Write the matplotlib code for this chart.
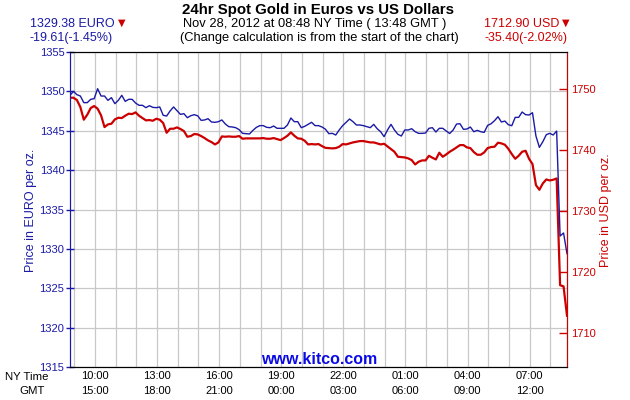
import matplotlib
matplotlib.use("Agg")
import matplotlib.pyplot as plt
import matplotlib.dates as mdates
from matplotlib.ticker import FuncFormatter
from datetime import timedelta
import pandas as pd
import numpy as np

plt.rcParams['font.family'] = ['Liberation Sans', 'DejaVu Sans']

BLUE = '#1a1aa6'
RED = '#cc0000'
GRID = '#c8c8c8'

# 10 minute samples, NY time, from 08:48 on Nov 27
times = pd.date_range("2012-11-27 08:48", periods=145, freq="10min")

eur = [1349.50, 1350.00, 1349.58, 1349.41, 1348.57, 1348.57, 1348.99, 1349.07, 1350.34, 1349.41,
       1349.41, 1348.86, 1349.20, 1348.44, 1348.86, 1349.50, 1348.73, 1348.99, 1348.99, 1348.52,
       1348.23, 1348.23, 1347.93, 1348.18, 1347.97, 1347.93, 1348.02, 1346.96, 1346.87, 1347.51,
       1348.02, 1347.55, 1347.08, 1347.17, 1346.66, 1346.91, 1347.04, 1346.90, 1346.32, 1346.37,
       1346.53, 1346.11, 1346.07, 1346.15, 1346.37, 1345.86, 1345.52, 1345.48, 1345.39, 1345.14,
       1344.67, 1344.63, 1344.59, 1345.05, 1345.43, 1345.65, 1345.65, 1345.43, 1345.39, 1345.60,
       1345.31, 1345.31, 1345.31, 1345.73, 1346.62, 1346.15, 1346.15, 1345.39, 1345.56, 1345.81,
       1346.07, 1345.65, 1345.65, 1345.48, 1345.20, 1344.63, 1344.67, 1344.46, 1345.10, 1345.65,
       1346.07, 1346.49, 1346.15, 1345.73, 1345.73, 1345.65, 1345.52, 1345.39, 1345.81, 1345.26,
       1344.88, 1344.25, 1345.10, 1345.81, 1345.10, 1344.55, 1344.33, 1345.10, 1345.10, 1345.26,
       1344.88, 1344.67, 1344.67, 1344.71, 1345.31, 1345.39, 1344.84, 1345.31, 1345.31, 1344.97,
       1344.65, 1345.09, 1345.85, 1345.89, 1345.18, 1345.22, 1345.47, 1344.88, 1345.05, 1344.88,
       1344.79, 1345.68, 1345.89, 1346.28, 1346.78, 1346.11, 1346.23, 1345.77, 1345.64, 1346.70,
       1346.70, 1347.38, 1347.04, 1347.00, 1347.29, 1344.33, 1342.89, 1343.61, 1344.50, 1344.67,
       1344.46, 1344.96, 1331.63, 1332.02, 1329.38]

usd = [1748.61, 1748.61, 1748.23, 1747.08, 1745.01, 1745.82, 1746.92, 1747.25, 1746.81, 1745.72,
       1743.80, 1744.24, 1744.35, 1745.06, 1745.33, 1745.28, 1745.66, 1745.99, 1745.93, 1746.21,
       1745.66, 1745.28, 1744.90, 1744.95, 1744.84, 1745.17, 1745.01, 1744.46, 1742.87, 1743.53,
       1743.53, 1743.75, 1743.48, 1743.15, 1742.22, 1742.33, 1742.66, 1742.60, 1742.33, 1742.00,
       1741.62, 1741.34, 1740.96, 1741.29, 1742.27, 1742.22, 1742.27, 1742.22, 1742.22, 1742.33,
       1741.89, 1741.95, 1741.95, 1741.95, 1741.95, 1741.95, 1742.00, 1741.89, 1741.89, 1742.00,
       1741.84, 1741.67, 1742.00, 1742.38, 1742.93, 1742.38, 1741.95, 1741.89, 1741.56, 1740.96,
       1741.02, 1740.96, 1741.02, 1740.69, 1740.40, 1740.36, 1740.31, 1740.36, 1740.58, 1741.02,
       1740.96, 1741.13, 1741.29, 1741.40, 1741.51, 1741.51, 1741.40, 1741.29, 1741.29, 1741.13,
       1740.96, 1741.07, 1740.63, 1740.20, 1739.76, 1738.94, 1738.89, 1738.83, 1738.67, 1738.39,
       1737.68, 1738.12, 1738.34, 1738.34, 1739.10, 1738.78, 1738.50, 1739.60, 1738.94, 1739.32,
       1739.75, 1740.09, 1740.47, 1740.85, 1740.85, 1740.47, 1740.36, 1739.71, 1739.27, 1739.27,
       1739.65, 1740.36, 1740.53, 1740.58, 1741.24, 1741.13, 1740.91, 1740.25, 1739.38, 1738.61,
       1739.10, 1739.76, 1739.92, 1738.61, 1737.74, 1734.30, 1733.53, 1734.57, 1735.22, 1735.06,
       1735.17, 1735.39, 1717.90, 1717.70, 1712.90]

eur_ticks = [1315, 1320, 1325, 1330, 1335, 1340, 1345, 1350, 1355]
usd_ticks = [1710, 1720, 1730, 1740, 1750]

fig = plt.figure(figsize=(6.3, 4.0), dpi=100)
ax = fig.add_axes([70/630, 33/400, 497/630, 315/400])
ax2 = ax.twinx()

# red on the twin axis, blue drawn over it in euro coordinates
ax2.plot(times, usd, color=RED, linewidth=1.6, zorder=2)
ax2.plot(times, eur, color=BLUE, linewidth=1.0, zorder=3, transform=ax.transData)

ax.set_xlim(times[0], times[-1])
ax.set_ylim(1315, 1355)
ax2.set_ylim(1704.5, 1756.1)

ax.set_yticks(eur_ticks)
ax2.set_yticks(usd_ticks)

ax.xaxis.set_major_locator(mdates.HourLocator(byhour=[1, 4, 7, 10, 13, 16, 19, 22]))
ax.xaxis.set_minor_locator(mdates.HourLocator())

def two_clocks(x, pos):
    t = mdates.num2date(x)
    return f"{t:%H:%M}\n{(t + timedelta(hours=5)):%H:%M}"

ax.xaxis.set_major_formatter(FuncFormatter(two_clocks))
ax.tick_params(axis='x', which='both', length=0, pad=3, labelsize=8)
ax.grid(axis='x', which='both', color=GRID, linewidth=0.9)
ax.grid(axis='y', which='major', color=GRID, linewidth=0.9)
ax.set_axisbelow(True)

ax.tick_params(axis='y', colors=BLUE, direction='inout', length=6, width=1, labelsize=8, pad=1)
ax2.tick_params(axis='y', colors=RED, direction='in', length=6, width=1, labelsize=8, pad=3)

ax.spines['left'].set_color(BLUE)
ax2.spines['left'].set_color(BLUE)
ax2.spines['right'].set_color(RED)
for a in (ax, ax2):
    a.spines['top'].set_color('black')
    a.spines['bottom'].set_color('black')

# headings
fig.text(318/630, 1 - 10/400, "24hr Spot Gold in Euros vs US Dollars", ha='center', va='center',
         fontsize=10.8, fontweight='bold')
fig.text(315/630, 1 - 24/400, "Nov 28, 2012 at 08:48 NY Time ( 13:48 GMT )", ha='center', va='center',
         fontsize=9.3)
fig.text(319/630, 1 - 38/400, "(Change calculation is from the start of the chart)", ha='center',
         va='center', fontsize=9.3)

fig.text(30/630, 1 - 24/400, "1329.38 EURO", ha='left', va='center', fontsize=9, color=BLUE)
fig.text(30/630, 1 - 38/400, "-19.61(-1.45%)", ha='left', va='center', fontsize=9, color=BLUE)
fig.text(122/630, 1 - 23/400, "\u25bc", ha='center', va='center', fontsize=7, color=RED,
         family='DejaVu Sans')

fig.text(484/630, 1 - 24/400, "1712.90 USD", ha='left', va='center', fontsize=9, color=RED)
fig.text(484/630, 1 - 38/400, "-35.40(-2.02%)", ha='left', va='center', fontsize=9, color=RED)
fig.text(566/630, 1 - 23/400, "\u25bc", ha='center', va='center', fontsize=7, color=RED,
         family='DejaVu Sans')

fig.text(31/630, 1 - 210/400, "Price in EURO per oz.", rotation=90, ha='center', va='center',
         fontsize=9, color=BLUE)
fig.text(606/630, 1 - 210/400, "Price in USD per oz.", rotation=90, ha='center', va='center',
         fontsize=9, color=RED)

fig.text(27/630, 1 - 377/400, "NY Time", ha='center', va='center', fontsize=8.2)
fig.text(32/630, 1 - 391/400, "GMT", ha='center', va='center', fontsize=8.2)

fig.text(319/630, 1 - 360/400, "www.kitco.com", ha='center', va='center', fontsize=11.5,
         fontweight='bold', color='#0a0ae6', zorder=10)

fig.canvas.draw()
for lbl in ax.get_xticklabels():
    lbl.set_linespacing(1.65)

fig.savefig("out.png", dpi=100)
